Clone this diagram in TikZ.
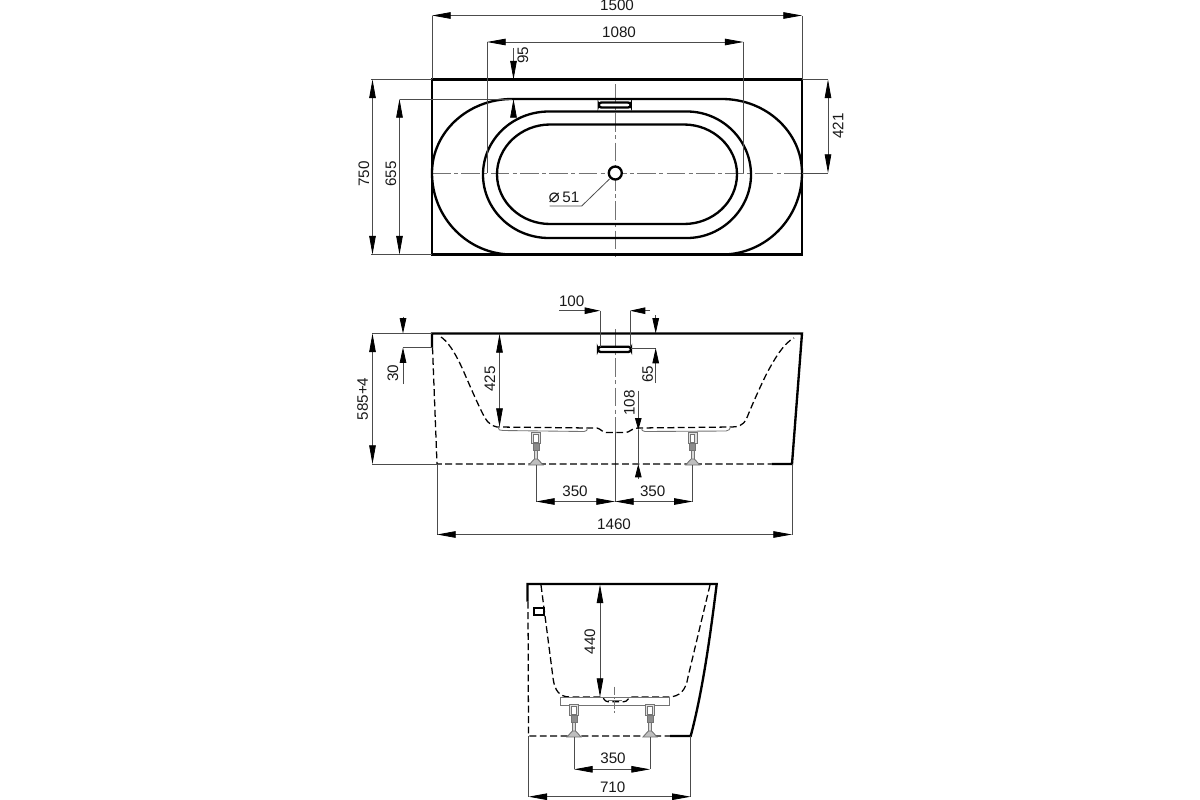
\documentclass[tikz,border=0pt]{standalone}
\usepackage{fontspec}
\setmainfont{Liberation Sans}
\newfontfamily\symfont{DejaVu Sans}
\usetikzlibrary{arrows, arrows.meta}
\usetikzlibrary{calc}
\tikzset{
  body/.style={line width=1.75pt, black},
  hidden/.style={line width=0.95pt, black, dash pattern=on 5.2pt off 2.6pt},
  axis/.style={line width=0.7pt, black!55, dash pattern=on 14pt off 2.5pt on 3pt off 2.5pt},
  thin part/.style={line width=0.65pt, black!55},
  dimline/.style={line width=0.6pt, black!70},
  dimarrow/.style={line width=0.6pt, black!70, -{Triangle[length=14pt, width=4.9pt, black]}},
  shortarrow/.style={line width=0.6pt, black!70, -{Triangle[length=11.5pt, width=4.9pt, black]}},
  dimboth/.style={line width=0.6pt, black!70, {Triangle[length=14pt, width=4.9pt, black]}-{Triangle[length=14pt, width=4.9pt, black]}},
  dimlabel/.style={font=\fontsize{11.4}{13}\selectfont, inner sep=0pt, text=black!90},
  vdimlabel/.style={dimlabel, rotate=90}
}
\begin{document}
\begin{tikzpicture}[x=0.75pt, y=-0.75pt]
      \useasboundingbox (0, 0) rectangle (1200, 800);

      % top view
      \draw[axis] (432, 173) -- (802, 173);
      \draw[axis] (615.3, 84) -- (615.3, 258);
      \draw[body] (432, 79.5) rectangle (802, 254.5);
      \draw[body] (512, 99) .. controls (468, 99) and (432, 132) .. (432, 173)
        .. controls (432, 218) and (468, 254.5) .. (512, 254.5);
      \draw[body] (512, 99) -- (722, 99)
        .. controls (766, 99) and (802, 132) .. (802, 173)
        .. controls (802, 218) and (766, 254.5) .. (722, 254.5);
      \draw[body] (549, 111.5) -- (687, 111.5)
        .. controls (722, 111.5) and (751, 140) .. (751, 174.7)
        .. controls (751, 209) and (722, 238) .. (687, 238)
        -- (549, 238)
        .. controls (512, 238) and (483, 209) .. (483, 174.7)
        .. controls (483, 140) and (512, 111.5) .. (549, 111.5) -- cycle;
      \draw[body] (550, 124.5) -- (684, 124.5)
        .. controls (713, 124.5) and (737, 147) .. (737, 174.2)
        .. controls (737, 202) and (713, 224) .. (684, 224)
        -- (550, 224)
        .. controls (521, 224) and (497, 202) .. (497, 174.2)
        .. controls (497, 147) and (521, 124.5) .. (550, 124.5) -- cycle;
      \draw[body, fill=white, rounded corners=2pt] (598.7, 102.5) rectangle (630.7, 107.5);
      \draw[body, fill=white] (615.3, 173) circle (6.5);

      \draw[dimline] (432, 79) -- (432, 15.5);
      \draw[dimline] (802, 79) -- (802, 15.5);
      \draw[dimboth] (432, 15.5) -- (802, 15.5);
      \node[dimlabel] (w1500) at (617, 5.5) {1500};
      \draw[dimline] (487, 173) -- (487, 42);
      \draw[dimline] (743.5, 173) -- (743.5, 42);
      \draw[dimboth] (487, 42) -- (743.5, 42);
      \node[dimlabel] (w1080) at (619, 32) {1080};
      \draw[dimarrow] (513.5, 48) -- (513.5, 79.5);
      \draw[dimarrow] (513.5, 115) -- (513.5, 99);
      \node[vdimlabel] (h95) at (523, 55) {95};
      \draw[dimline] (371, 79.5) -- (432, 79.5);
      \draw[dimline] (371, 254.5) -- (432, 254.5);
      \draw[dimline] (399.5, 99) -- (512, 99);
      \draw[dimboth] (372.5, 79.5) -- (372.5, 254.5);
      \draw[dimboth] (399.5, 99) -- (399.5, 254.5);
      \node[vdimlabel] (h750) at (364, 174) {750};
      \node[vdimlabel] (h655) at (391, 174) {655};
      \draw[dimline] (802, 79.5) -- (828, 79.5);
      \draw[dimline] (802, 173) -- (828, 173);
      \draw[dimboth] (828, 79.5) -- (828, 173);
      \node[vdimlabel] (h421) at (838, 126) {421};
      \draw[dimline] (609.5, 179) -- (581.7, 206) -- (549.5, 206);
      \node[dimlabel] (d51) at (564, 197) {{\symfont\fontsize{14}{14}\selectfont ⌀}\,51};

      % front view
      \draw[axis] (615, 329) -- (615, 432);
      \draw[dimline] (615, 432) -- (615, 501.5);
      \draw[body] (432, 347.5) -- (432, 333.5) -- (802, 333.5) -- (792, 464) -- (771.7, 464);
      \draw[hidden] (432.5, 347.5) -- (437, 464) -- (771.7, 464);
      \draw[hidden] (441, 337) .. controls (447, 341) and (454, 350) .. (463, 370)
        .. controls (470, 386) and (478, 405) .. (485, 418)
        .. controls (488, 423) and (492, 426) .. (497, 427)
        -- (590, 428) -- (597, 428) .. controls (601, 429) and (602, 432) .. (606, 432.5)
        -- (626, 432.5) .. controls (630, 432) and (632, 428) .. (638, 428)
        -- (732, 427) .. controls (738, 427) and (743, 425) .. (746, 420)
        .. controls (750, 410) and (758, 391) .. (767, 373)
        .. controls (775, 358) and (784, 343) .. (794, 338);
      \draw[body, fill=white, rounded corners=2pt] (598, 346.7) rectangle (631, 352);
      \draw[thin part] (498, 427) .. controls (498, 430) and (500, 430.5) .. (503, 430.5)
        -- (584, 431.5) .. controls (587, 431.5) and (587, 430) .. (587.5, 428);
      \draw[thin part] (641.5, 428) .. controls (642, 430) and (642, 431.5) .. (645, 431.5)
        -- (726, 431) .. controls (729, 431) and (730, 429) .. (730.5, 427);

      % side view
      \draw[body] (527.5, 601.7) -- (527.5, 584) -- (716.7, 584)
        .. controls (711, 630) and (703, 690) .. (690.7, 736) -- (670, 736);
      \draw[hidden] (528, 601.7) -- (528.5, 736) -- (670, 736);
      \draw[body, line width=1.4pt] (534, 608.3) rectangle (544, 615);
      \draw[hidden] (541, 585) -- (553.3, 680) .. controls (555, 690) and (559, 697) .. (570, 697)
        -- (601.7, 697) .. controls (604, 697) and (604, 701.7) .. (608, 701.7)
        -- (624, 701.7) .. controls (628, 701.7) and (628, 697) .. (631, 697)
        -- (668, 697) .. controls (680, 697) and (686, 690) .. (688, 677)
        -- (710, 585);
      \draw[thin part] (560.7, 697) rectangle (669, 705);
      \draw[axis, dash pattern=on 6pt off 1.5pt on 1.5pt off 1.5pt] (614.3, 686.7) -- (614.3, 714);
      \draw[thin part] (608, 700) -- (622, 700);

      % feet
      \foreach \footx/\footy in {536/464, 692.7/464, 574/736, 650/736} {
        \begin{scope}[shift={(\footx, \footy)}]
          \draw[thin part, fill=black!12] (-4.5, -32) rectangle (4.5, -21);
          \draw[thin part, fill=white] (-2.2, -30) rectangle (2.2, -22);
          \draw[thin part, fill=black!45] (-3, -21) rectangle (3, -14);
          \draw[thin part, fill=black!15] (-1.6, -14) rectangle (1.6, -5);
          \draw[thin part, fill=black!25] (-1.6, -5) -- (-3.5, -3) -- (-7, 1) -- (7, 1) -- (3.5, -3) -- (1.6, -5) -- cycle;
        \end{scope}
      }

      % front view dimensions
      \draw[shortarrow] (559, 310.7) -- (600, 310.7);
      \draw[shortarrow] (650, 310.7) -- (630, 310.7);
      \draw[dimline] (600, 310.7) -- (600, 346.7);
      \draw[dimline] (630, 310.7) -- (630, 346.7);
      \node[dimlabel] (w100) at (571.7, 301.7) {100};
      \draw[shortarrow] (655.7, 315) -- (655.7, 333.5);
      \draw[dimline] (631, 348) -- (655.7, 348);
      \draw[shortarrow] (655.7, 383) -- (655.7, 348);
      \node[vdimlabel] (h65) at (647.7, 374) {65};
      \draw[shortarrow, -{Triangle[length=9pt, width=4.9pt, black]}] (638.3, 390.7) -- (638.3, 430);
      \draw[dimline] (638.3, 430) -- (638.3, 464);
      \draw[shortarrow, -{Triangle[length=10pt, width=4.9pt, black]}] (638.3, 479) -- (638.3, 464);
      \node[vdimlabel] (h108) at (629.3, 403) {108};
      \draw[dimboth] (499.5, 334) -- (499.5, 427);
      \node[vdimlabel] (h425) at (490, 379) {425};
      \draw[shortarrow] (403, 316.7) -- (403, 333.5);
      \draw[dimline] (403, 347.5) -- (432, 347.5);
      \draw[shortarrow] (403, 384) -- (403, 347.5);
      \node[vdimlabel] (h30) at (393, 373) {30};
      \draw[dimline] (372, 333.5) -- (432, 333.5);
      \draw[dimline] (372, 464) -- (437, 464);
      \draw[dimboth] (372.5, 333.5) -- (372.5, 464);
      \node[vdimlabel] (h585) at (362.7, 399) {585+4};
      \draw[dimline] (536, 465) -- (536, 501.5);
      \draw[dimline] (692.7, 465) -- (692.7, 501.5);
      \draw[dimboth] (536, 501.5) -- (615, 501.5);
      \draw[dimboth] (615, 501.5) -- (692.7, 501.5);
      \node[dimlabel] (w350a) at (575, 491) {350};
      \node[dimlabel] (w350b) at (652.7, 491) {350};
      \draw[dimline] (437, 464) -- (437, 534.5);
      \draw[dimline] (792, 464) -- (792, 534.5);
      \draw[dimboth] (437, 534.5) -- (792, 534.5);
      \node[dimlabel] (w1460) at (614, 524) {1460};

      % side view dimensions
      \draw[dimboth] (600, 584.5) -- (600, 697);
      \node[vdimlabel] (h440) at (590, 641.7) {440};
      \draw[dimline] (574, 737) -- (574, 769.3);
      \draw[dimline] (650, 737) -- (650, 769.3);
      \draw[dimboth] (574, 769.3) -- (650, 769.3);
      \node[dimlabel] (w350c) at (613, 758) {350};
      \draw[dimline] (528.5, 736) -- (528.5, 796.7);
      \draw[dimline] (690.7, 736) -- (690.7, 796.7);
      \draw[dimboth] (528.5, 796.7) -- (690.7, 796.7);
      \node[dimlabel] (w710) at (612.7, 787.7) {710};
\end{tikzpicture}
\end{document}
